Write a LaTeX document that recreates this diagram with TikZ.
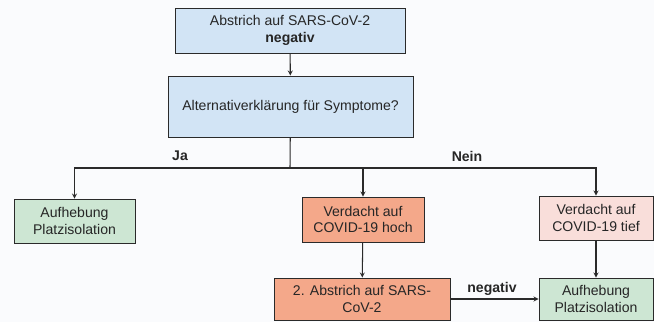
\documentclass[tikz,border=0pt]{standalone}
\usepackage{fontspec}
\setmainfont{Liberation Sans}
\usetikzlibrary{positioning, arrows}

\definecolor{hellblau}{HTML}{D2E4F5}
\definecolor{hellgruen}{HTML}{CDE6D3}
\definecolor{lachs}{HTML}{F4A88A}
\definecolor{rosa}{HTML}{F9DEDA}
\definecolor{papier}{HTML}{FAFBFD}
\definecolor{linie}{HTML}{2A2A2A}

\tikzset{
  kasten/.style={draw=linie, line width=0.8pt, align=center, inner sep=2pt,
    font=\fontsize{12}{14}\selectfont, text=black!85},
  marke/.style={font=\fontsize{12}{14}\selectfont\bfseries, text=black!85}
}

\begin{document}
\begin{tikzpicture}[->, >=stealth, x=0.03cm, y=-0.03cm, line width=0.9pt, draw=linie]
      \path[use as bounding box, fill=papier] (0,0) rectangle (654,322);
      % obere Reihe
      \node[kasten, fill=hellblau, minimum width=6.9cm, minimum height=1.35cm] (abstrich) at (290,30.5)
        {Abstrich auf SARS-CoV-2\\\textbf{negativ}};
      \node[kasten, fill=hellblau, minimum width=7.35cm, minimum height=1.83cm] (frage) at (290.5,106.5)
        {Alternativerklärung für Symptome?};
      % mittlere Reihe
      \node[kasten, fill=hellgruen, minimum width=3.63cm, minimum height=1.32cm] (aufh1) at (74.5,221)
        {Aufhebung\\Platzisolation};
      \node[kasten, fill=lachs, minimum width=3.66cm, minimum height=1.35cm] (hoch) at (363,219.5)
        {Verdacht auf\\COVID-19 hoch};
      \node[kasten, fill=rosa, minimum width=3.42cm, minimum height=1.32cm] (tief) at (596,218)
        {Verdacht auf\\COVID-19 tief};
      % untere Reihe
      \node[kasten, fill=lachs, minimum width=5.28cm, minimum height=1.26cm] (abstrich2) at (362,299)
        {2. Abstrich auf SARS-\\CoV-2};
      \node[kasten, fill=hellgruen, minimum width=3.42cm, minimum height=1.26cm] (aufh2) at (596,299)
        {Aufhebung\\Platzisolation};
      \coordinate (knoten) at (290,168);
      \draw [->] (abstrich) -- (frage);
      \draw [-] (frage) -- (knoten);
      \draw [->] (knoten) -| (aufh1);
      \draw [->] (knoten) -| (hoch);
      \draw [->] (knoten) -| (tief);
      \draw [->] (hoch) -- (abstrich2);
      \draw [->] (tief) -- (aufh2);
      \draw [->] (abstrich2) -- (aufh2);
      \node[marke] (ja) at (180,156) {Ja};
      \node[marke] (nein) at (467,156) {Nein};
      \node[marke] (neg) at (492,289) {negativ};
  \end{tikzpicture}
\end{document}
